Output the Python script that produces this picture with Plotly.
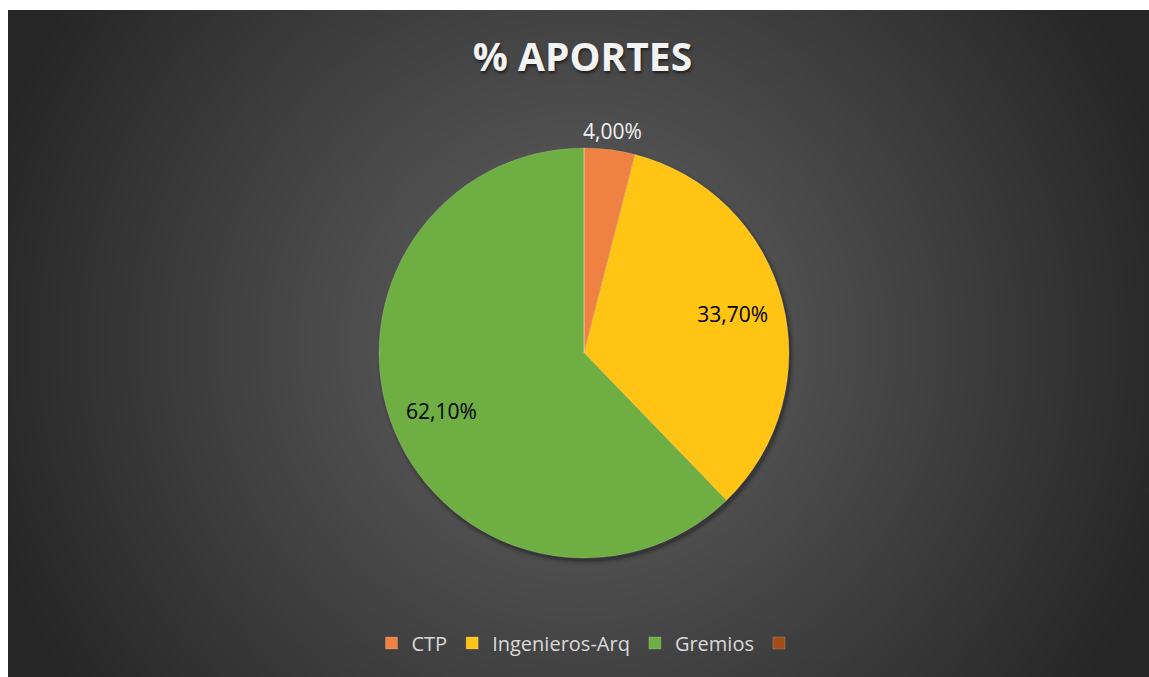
import math
import plotly.graph_objects as go

# ---- data ----
categories = ["CTP", "Ingenieros-Arq", "Gremios", " "]
values = [4.00, 33.70, 62.10, 0.0]
slice_colors = ["#EF8243", "#FFC414", "#6EAE43", "#A44C16"]
text_colors = ["#F2F2F2", "#000000", "#000000", "#000000"]
inside_positions = ["none", "inside", "inside", "none"]
title_text = "% APORTES"

labels_fmt = [("%.2f%%" % v).replace(".", ",") for v in values]

W, H = 1141, 667
FONT = "Open Sans"

# background radial gradient via concentric circles (pixel geometry)
cx, cy = 570, 333
def px_x(p):
    return p / W
def px_y(p):
    return 1 - p / H

shapes = []
rmax = 680
step = 10
r = rmax
while r > 0:
    g = 79 + 0.101 * (210 - r)
    g = max(38, min(92, g))
    gi = int(round(g))
    col = "rgb(%d,%d,%d)" % (gi, gi, gi)
    shapes.append(dict(type="circle", xref="paper", yref="paper",
                       x0=px_x(cx - r), x1=px_x(cx + r),
                       y0=px_y(cy + r), y1=px_y(cy - r),
                       fillcolor=col, line=dict(width=0), layer="below"))
    r -= step

# pie geometry
pcx, pcy, pr = 576, 343, 205
domain = dict(x=[(pcx - pr) / W, (pcx + pr) / W],
              y=[(H - pcy - pr) / H, (H - pcy + pr) / H])
# soft shadow
for k, a in [(209, 0.06), (207, 0.10), (205.5, 0.16)]:
    shapes.append(dict(type="circle", xref="paper", yref="paper",
                       x0=px_x(pcx + 2 - k), x1=px_x(pcx + 2 + k),
                       y0=px_y(pcy + 3 + k), y1=px_y(pcy + 3 - k),
                       fillcolor="rgba(0,0,0,%g)" % a, line=dict(width=0), layer="below"))

fig = go.Figure()
# coloured slices
fig.add_trace(go.Pie(
    labels=categories,
    values=values,
    textinfo="none",
    sort=False,
    direction="clockwise",
    rotation=0,
    marker=dict(colors=slice_colors, line=dict(width=0.5, color="rgba(255,255,255,0.35)")),
    hoverinfo="label+percent",
    domain=domain,
    showlegend=True,
))
# label layer (transparent ring, so inside labels sit toward the rim)
fig.add_trace(go.Pie(
    labels=categories,
    values=values,
    text=labels_fmt,
    textinfo="text",
    textposition=inside_positions,
    insidetextorientation="horizontal",
    sort=False,
    direction="clockwise",
    rotation=0,
    hole=0.5,
    marker=dict(colors=["rgba(0,0,0,0)"] * len(values), line=dict(width=0)),
    textfont=dict(family=FONT, size=21, color=text_colors),
    insidetextfont=dict(family=FONT, size=21, color=text_colors),
    hoverinfo="skip",
    domain=domain,
    showlegend=False,
))

# outside label for the small slice, centred on its bisector just beyond the rim
total = sum(values)
mid_frac = (values[0] / 2) / total
ang = 2 * math.pi * mid_frac
rl = pr + 19
lx = pcx + rl * math.sin(ang)
ly = pcy - rl * math.cos(ang)
annotations = [dict(text=labels_fmt[0], xref="paper", yref="paper",
                    x=px_x(lx), y=px_y(ly), xanchor="center", yanchor="middle",
                    showarrow=False, font=dict(family=FONT, size=21, color=text_colors[0]))]

fig.update_layout(
    width=W, height=H,
    margin=dict(l=0, r=0, t=0, b=0),
    paper_bgcolor="#262626",
    plot_bgcolor="#262626",
    shapes=shapes,
    annotations=annotations,
    title=dict(text="<b>" + title_text + "</b>", x=574.5 / W, xanchor="center",
               y=1 - 47 / H, yanchor="middle",
               font=dict(family=FONT, size=39, color="#F2F2F2",
                         shadow="1px 2px 3px rgba(0,0,0,0.6)")),
    legend=dict(orientation="h", x=0.5 + 12 / W, xanchor="center", y=34 / H, yanchor="middle",
                font=dict(family=FONT, size=20, color="#D9D9D9"),
                bgcolor="rgba(0,0,0,0)", traceorder="normal"),
)

fig.write_html("out.html",
               post_script="document.body.style.margin='10px 0 0 8px';document.body.style.overflow='hidden';")
